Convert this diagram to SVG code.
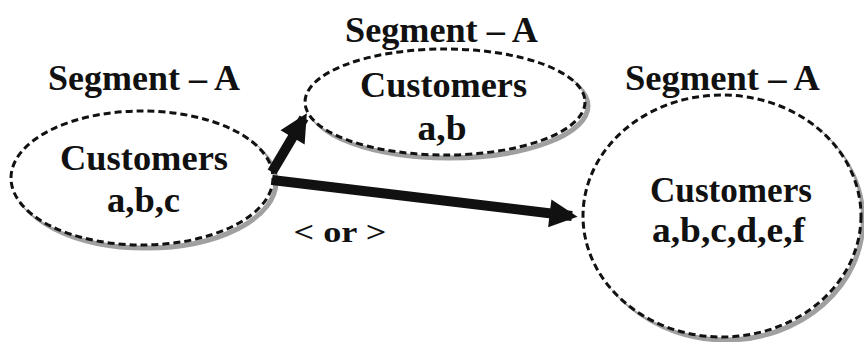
<svg xmlns="http://www.w3.org/2000/svg" width="864" height="342" viewBox="0 0 864 342">
  <defs>
    <style>
      text { font-family: 'Liberation Serif', 'Times New Roman', Times, serif; font-weight: 700; fill: #111; text-anchor: middle; }
      .seg { font-size: 35px; }
      .txt { font-size: 35px; }
      .or { font-size: 30px; }
      .shade { fill: none; stroke: #a0a0a0; stroke-width: 5; }
      .ring { fill: #fff; stroke: #111; stroke-width: 3; stroke-dasharray: 7 4; }
      .link { stroke: #111; stroke-width: 10; fill: none; }
    </style>
    <marker id="head" viewBox="0 0 10 10" refX="8" refY="5" markerWidth="3" markerHeight="2.8" orient="auto" markerUnits="strokeWidth">
      <path d="M0,0 L10,5 L0,10 z" fill="#111"/>
    </marker>
  </defs>
  <rect width="864" height="342" fill="#fff"/>

  <g id="node-left">
    <text class="seg" x="144" y="90" font-family="Liberation Serif" textLength="192" lengthAdjust="spacingAndGlyphs">Segment – A</text>
    <ellipse class="shade" cx="146" cy="182" rx="130" ry="66"/>
    <ellipse class="ring" cx="142" cy="178" rx="131" ry="67"/>
    <text class="txt" x="144" y="170" font-family="Liberation Serif" textLength="168" lengthAdjust="spacingAndGlyphs">Customers</text>
    <text class="txt" x="143.5" y="212" font-family="Liberation Serif" textLength="73" lengthAdjust="spacingAndGlyphs">a,b,c</text>
  </g>

  <g id="node-middle">
    <text class="seg" x="441.5" y="42" font-family="Liberation Serif" textLength="193" lengthAdjust="spacingAndGlyphs">Segment – A</text>
    <ellipse class="shade" cx="449" cy="106" rx="139" ry="52"/>
    <ellipse class="ring" cx="445" cy="102" rx="140" ry="53"/>
    <text class="txt" x="443.5" y="97" font-family="Liberation Serif" textLength="167" lengthAdjust="spacingAndGlyphs">Customers</text>
    <text class="txt" x="442" y="140" font-family="Liberation Serif" textLength="49" lengthAdjust="spacingAndGlyphs">a,b</text>
  </g>

  <g id="node-right">
    <text class="seg" x="722.5" y="90" font-family="Liberation Serif" textLength="195" lengthAdjust="spacingAndGlyphs">Segment – A</text>
    <ellipse class="shade" cx="726" cy="220" rx="137" ry="120"/>
    <ellipse class="ring" cx="722" cy="216" rx="139" ry="121"/>
    <text class="txt" x="731" y="202" font-family="Liberation Serif" textLength="162" lengthAdjust="spacingAndGlyphs">Customers</text>
    <text class="txt" x="728.5" y="242" font-family="Liberation Serif" textLength="153" lengthAdjust="spacingAndGlyphs">a,b,c,d,e,f</text>
  </g>

  <g id="connectors">
    <line class="link" x1="272" y1="172" x2="304" y2="118" marker-end="url(#head)"/>
    <line class="link" x1="272" y1="180" x2="572" y2="216" marker-end="url(#head)"/>
  </g>

  <text class="or" x="340" y="242" font-family="Liberation Serif" textLength="93" lengthAdjust="spacingAndGlyphs">&lt; or &gt;</text>
</svg>
